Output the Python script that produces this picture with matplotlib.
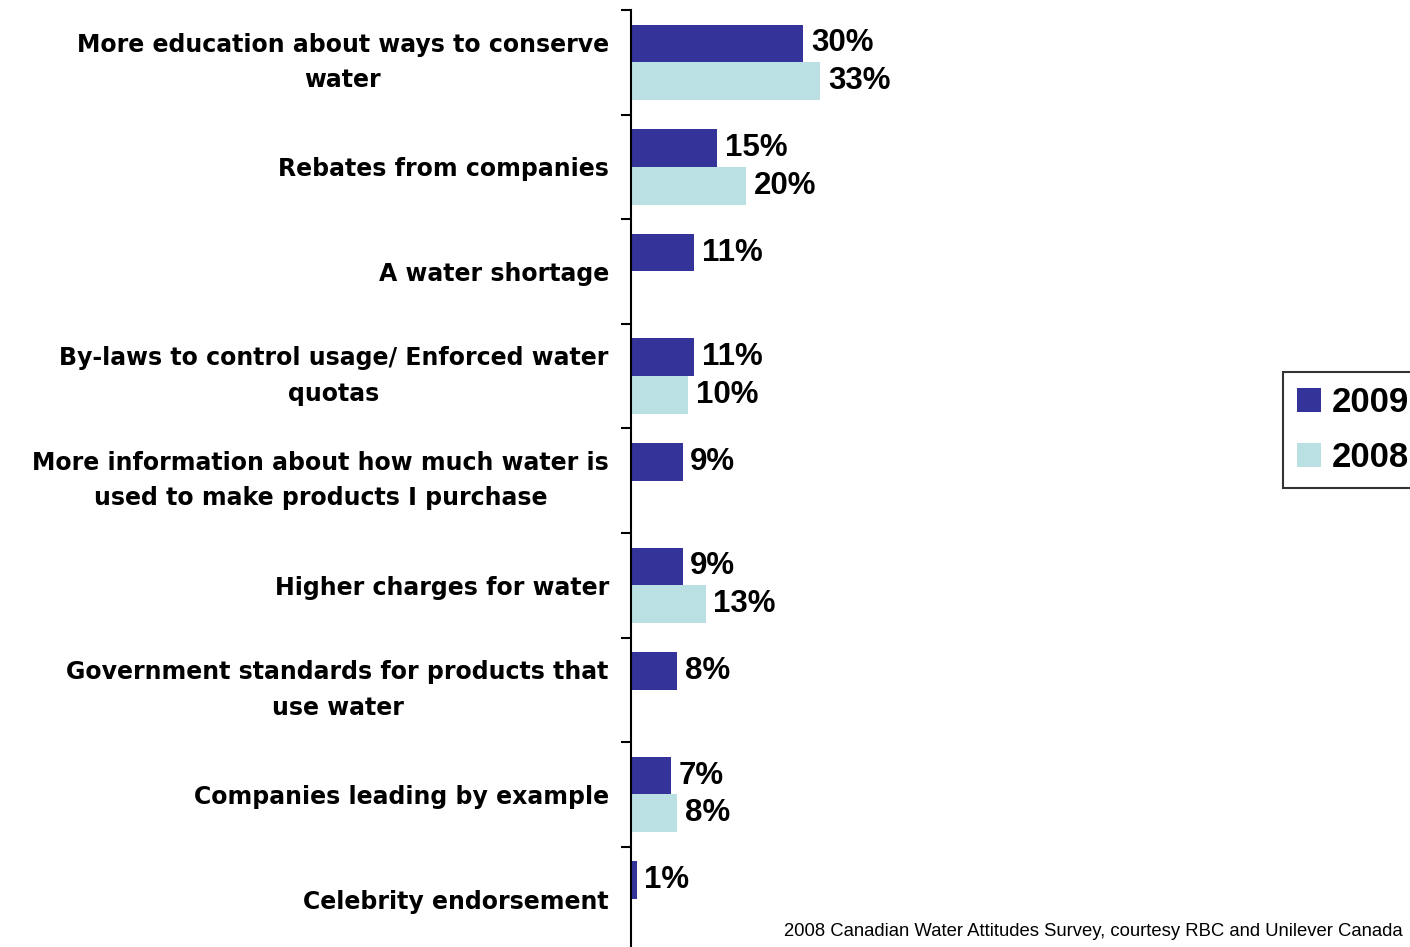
import numpy as np
import matplotlib
matplotlib.use("Agg")
import matplotlib.pyplot as plt
from matplotlib.ticker import FixedLocator

plt.rcParams['font.family'] = ['Liberation Sans', 'DejaVu Sans']

categories = [
    "More education about ways to conserve\nwater",
    "Rebates from companies",
    "A water shortage",
    "By-laws to control usage/ Enforced water\nquotas",
    "More information about how much water is\nused to make products I purchase",
    "Higher charges for water",
    "Government standards for products that\nuse water",
    "Companies leading by example",
    "Celebrity endorsement",
]
vals_2009 = [30, 15, 11, 11, 9, 9, 8, 7, 1]
vals_2008 = [33, 20, None, 10, None, 13, None, 8, None]
series_names = ["2009", "2008"]
colors = ["#333399", "#BBE0E3"]
source = "2008 Canadian Water Attitudes Survey, courtesy RBC and Unilever Canada"

W, H = 1410, 947
fig = plt.figure(figsize=(W / 100, H / 100), dpi=100)
# axes placed in pixel terms: spine at x=631, first category boundary at y=10
left, right = 631, 1270
top, bottom = 10, 10 + 9 * 104.6
ax = fig.add_axes([left / W, 1 - bottom / H, (right - left) / W, (bottom - top) / H])

y = np.arange(len(categories))
h = 0.36
px_per_pct = 5.74

for vals, off, col, name in [(vals_2009, -h / 2, colors[0], series_names[0]),
                             (vals_2008, h / 2, colors[1], series_names[1])]:
    idx = [i for i, v in enumerate(vals) if v is not None]
    vv = [vals[i] for i in idx]
    ax.barh(y[idx] + off, vv, height=h, color=col, label=name)
    for i, v in zip(idx, vv):
        ax.annotate(f"{v}%", (v, y[i] + off), xytext=(5.5, 0), textcoords="offset points",
                    ha="left", va="center", fontsize=22.5, fontweight="bold")

ax.set_xlim(0, (right - left) / px_per_pct)
ax.set_ylim(len(categories) - 0.5, -0.5)

for s in ["top", "right", "bottom"]:
    ax.spines[s].set_visible(False)
ax.spines["left"].set_linewidth(1.5)
ax.set_xticks([])

ax.set_yticks(y)
ax.set_yticklabels(categories, fontsize=17, fontweight="bold", family="DejaVu Sans",
                   multialignment="center", linespacing=1.6)
# two-line labels: centre the whole block on the category
for lab in ax.get_yticklabels():
    if "\n" in lab.get_text():
        lab.set_va("center")
ax.tick_params(axis="y", which="major", length=0, pad=16)
ax.yaxis.set_minor_locator(FixedLocator(np.arange(-0.5, len(categories), 1.0)))
ax.tick_params(axis="y", which="minor", length=7, width=1.5)

leg = fig.legend(loc="upper left", bbox_to_anchor=(1283 / W, 1 - 372 / H),
                 borderaxespad=0, prop={"size": 25, "weight": "bold"}, frameon=True,
                 fancybox=False, edgecolor="black", handlelength=0.7, handleheight=0.7,
                 handletextpad=0.3, borderpad=0.4, labelspacing=0.65)
leg.get_frame().set_linewidth(1.5)

fig.text(784 / W, 1 - 931 / H, source, ha="left", va="center", fontsize=13.3)

fig.savefig("out.png", dpi=100)
